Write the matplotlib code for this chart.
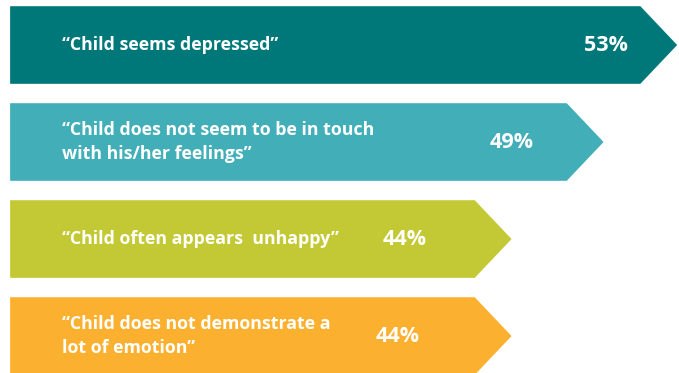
import matplotlib
matplotlib.use("Agg")
import matplotlib.pyplot as plt
from matplotlib.patches import Polygon
import matplotlib.transforms as mtransforms

labels = [
    "\u201cChild seems depressed\u201d",
    "\u201cChild does not seem to be in touch\nwith his/her feelings\u201d",
    "\u201cChild often appears  unhappy\u201d",
    "\u201cChild does not demonstrate a\nlot of emotion\u201d",
]
values = [53, 49, 44, 44]
colors = ["#00787A", "#41AEB8", "#C3C934", "#FBB12F"]

# layout (pixels in a 679 px wide figure)
W, H = 679, 373
x_start = 16.75      # value where every arrow starts
head = 2.0           # depth of the arrow head, in value units
bar_h = 0.80
pct_x = [606, 512, 405, 398]

fig = plt.figure(figsize=(W / 100, H / 100), dpi=100)
ax = fig.add_axes([0, 0, 1, 1])
ax.set_xlim(16.2, 53.1)
ax.set_ylim(3.381, -0.464)
ax.axis("off")

trans = mtransforms.blended_transform_factory(ax.transAxes, ax.transData)

for i, (lab, v, c) in enumerate(zip(labels, values, colors)):
    top, bot = i - bar_h / 2, i + bar_h / 2
    pts = [(x_start, top), (v - head, top), (v, i), (v - head, bot), (x_start, bot)]
    ax.add_patch(Polygon(pts, closed=True, facecolor=c, edgecolor="none"))
    ax.text(62 / W, i, lab, transform=trans, ha="left", va="center",
            color="white", fontsize=12.8, fontweight="bold",
            family="Open Sans", linespacing=1.45)
    ax.text(pct_x[i] / W, i, f"{v}%", transform=trans, ha="center",
            va="center", color="white", fontsize=15.5, fontweight="bold",
            family="Open Sans")

fig.savefig("out.png", dpi=100)
